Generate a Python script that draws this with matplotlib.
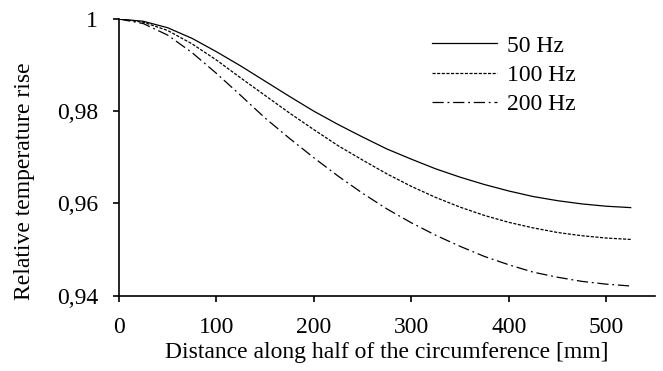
import numpy as np
import matplotlib
matplotlib.use("Agg")
import matplotlib.pyplot as plt

# Distance along half of the circumference [mm]
distancia = [0, 25, 50, 75, 100, 125, 150, 175, 200, 225, 250,
             275, 300, 325, 350, 375, 400, 425, 450, 475, 500, 525]

# Relative temperature rise for each frequency
t_50hz = [1.0000, 0.9995, 0.9981, 0.9958, 0.9929, 0.9898, 0.9865, 0.9832,
          0.9800, 0.9771, 0.9744, 0.9718, 0.9696, 0.9675, 0.9657, 0.9641,
          0.9627, 0.9615, 0.9606, 0.9599, 0.9594, 0.9591]
t_100hz = [1.0000, 0.9993, 0.9975, 0.9946, 0.9911, 0.9872, 0.9834, 0.9796,
           0.9760, 0.9725, 0.9694, 0.9664, 0.9637, 0.9613, 0.9592, 0.9574,
           0.9559, 0.9547, 0.9537, 0.9530, 0.9525, 0.9522]
t_200hz = [1.0000, 0.9990, 0.9965, 0.9927, 0.9882, 0.9834, 0.9785, 0.9741,
           0.9699, 0.9659, 0.9622, 0.9588, 0.9558, 0.9531, 0.9507, 0.9485,
           0.9467, 0.9451, 0.9440, 0.9431, 0.9425, 0.9421]

etiquetas = ["50 Hz", "100 Hz", "200 Hz"]
y_ticks = [0.94, 0.96, 0.98, 1.0]
y_tick_labels = ["0,94", "0,96", "0,98", "1"]
x_ticks = [0, 100, 200, 300, 400, 500]

plt.rcParams["font.family"] = ["Liberation Serif", "DejaVu Serif"]
plt.rcParams["font.size"] = 17

fig = plt.figure(figsize=(6.63, 3.71), dpi=100)
ax = fig.add_axes([0.1795, 0.203, 0.8085, 0.7458])

ax.plot(distancia, t_50hz, color="black", lw=0.9, linestyle="-", label=etiquetas[0])
ax.plot(distancia, t_100hz, color="black", lw=0.9, linestyle=(0, (2.5, 1.2)), label=etiquetas[1])
ax.plot(distancia, t_200hz, color="black", lw=0.9, linestyle=(0, (9, 3, 1.5, 3)), label=etiquetas[2])

ax.set_xlim(0, 550)
ax.set_ylim(0.94, 1.0)
ax.set_xticks(x_ticks)
ax.set_yticks(y_ticks)
ax.set_yticklabels(y_tick_labels)

for lado in ["top", "right"]:
    ax.spines[lado].set_visible(False)
for lado in ["left", "bottom"]:
    ax.spines[lado].set_linewidth(1.2)

ax.tick_params(axis="both", direction="out", length=4, width=1.2, labelsize=17)
ax.tick_params(axis="y", pad=11)
ax.tick_params(axis="x", pad=11)

ax.set_xlabel("Distance along half of the circumference [mm]", fontsize=17, labelpad=3)
ax.set_ylabel("Relative temperature rise", fontsize=17, labelpad=16)
ax.yaxis.label.set_y(0.415)

ax.legend(loc="center", bbox_to_anchor=(0.7594, 0.7978), bbox_transform=fig.transFigure,
          frameon=False, handlelength=2.75, handletextpad=0.42, labelspacing=0.32,
          borderpad=0, fontsize=17)

fig.savefig("out.png", dpi=100)
